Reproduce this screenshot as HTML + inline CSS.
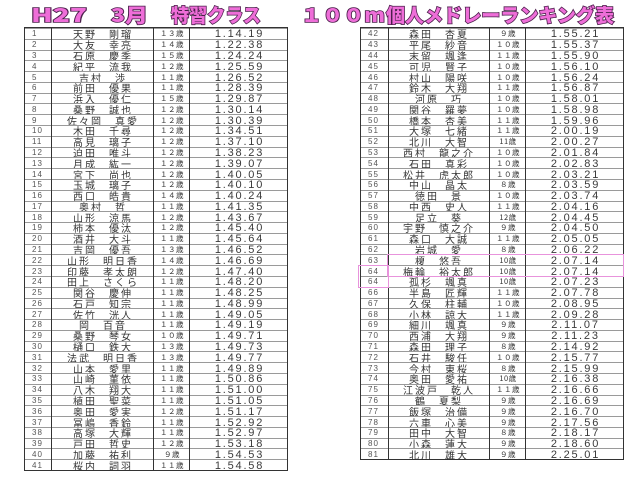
<!DOCTYPE html>
<html><head><meta charset="utf-8">
<style>
body{margin:0;width:640px;height:480px;background:#fff;position:relative;overflow:hidden;font-family:"Liberation Sans","Noto Sans CJK JP",sans-serif}
.tb{position:absolute;top:27px;width:264px;box-sizing:border-box;border:1px solid #333;display:flex;flex-direction:column}
.r{flex:1;position:relative;border-top:1px solid #9a9a9a}
.r:first-child{border-top:none}
.r span{position:absolute;top:0;bottom:0;display:flex;align-items:center;justify-content:center;white-space:nowrap;color:#333;box-sizing:border-box}
.r .a{left:0;width:27px;justify-content:flex-start;padding-left:7px;font-size:8px;letter-spacing:1px;color:#555}
.r .n{left:27px;width:102px;font-size:10px;letter-spacing:2px;font-family:"Noto Sans CJK JP",sans-serif}
.r .g{left:129px;width:36px;font-size:7.5px;letter-spacing:.5px;font-family:"Noto Sans CJK JP",sans-serif}
.r .t{left:165px;width:99px;font-size:11px;letter-spacing:1.8px;color:#3a3a3a;padding-top:1px}
.v{position:absolute;top:0;bottom:0;width:1px;background:#333;z-index:2}
.pk{position:absolute;border:1px solid #e893dc;z-index:3}
</style></head><body>
<svg width="640" height="27" style="position:absolute;left:0;top:0" xmlns="http://www.w3.org/2000/svg">
<g font-family="Noto Sans CJK JP, sans-serif" font-weight="900" font-size="19" fill="#ee6ed8" stroke="#4b1f4b" stroke-width="1.6" paint-order="stroke">
<text x="31" y="22" textLength="56" lengthAdjust="spacingAndGlyphs">H27</text>
<text x="111" y="22" textLength="37" lengthAdjust="spacingAndGlyphs">3月</text>
<text x="171" y="22" textLength="90" lengthAdjust="spacingAndGlyphs">特習クラス</text>
<text x="301" y="22" textLength="84" lengthAdjust="spacingAndGlyphs">１００m</text>
<text x="386" y="22" textLength="228" lengthAdjust="spacingAndGlyphs">個人メドレーランキング表</text>
</g></svg>

<div class="tb" style="left:24px;height:444px">
<div class="v" style="left:26px"></div><div class="v" style="left:128px"></div><div class="v" style="left:164px"></div>
<div class="r"><span class="a">1</span><span class="n">天野　剛瑠</span><span class="g">１３歳</span><span class="t">1.14.19</span></div>
<div class="r"><span class="a">2</span><span class="n">大友　幸亮</span><span class="g">１４歳</span><span class="t">1.22.38</span></div>
<div class="r"><span class="a">3</span><span class="n">石原　慶季</span><span class="g">１５歳</span><span class="t">1.24.24</span></div>
<div class="r"><span class="a">4</span><span class="n">紀平　流我</span><span class="g">１２歳</span><span class="t">1.25.59</span></div>
<div class="r"><span class="a">5</span><span class="n">吉村　渉</span><span class="g">１１歳</span><span class="t">1.26.52</span></div>
<div class="r"><span class="a">6</span><span class="n">前田　優果</span><span class="g">１１歳</span><span class="t">1.28.39</span></div>
<div class="r"><span class="a">7</span><span class="n">浜入　優仁</span><span class="g">１５歳</span><span class="t">1.29.87</span></div>
<div class="r"><span class="a">8</span><span class="n">桑野　誠也</span><span class="g">１２歳</span><span class="t">1.30.14</span></div>
<div class="r"><span class="a">9</span><span class="n">佐々岡　真愛</span><span class="g">１２歳</span><span class="t">1.30.39</span></div>
<div class="r"><span class="a">10</span><span class="n">木田　千尋</span><span class="g">１２歳</span><span class="t">1.34.51</span></div>
<div class="r"><span class="a">11</span><span class="n">高見　璃子</span><span class="g">１２歳</span><span class="t">1.37.10</span></div>
<div class="r"><span class="a">12</span><span class="n">迫田　唯斗</span><span class="g">１２歳</span><span class="t">1.38.23</span></div>
<div class="r"><span class="a">13</span><span class="n">月成　紘一</span><span class="g">１２歳</span><span class="t">1.39.07</span></div>
<div class="r"><span class="a">14</span><span class="n">宮下　尚也</span><span class="g">１２歳</span><span class="t">1.40.05</span></div>
<div class="r"><span class="a">15</span><span class="n">玉城　璃子</span><span class="g">１２歳</span><span class="t">1.40.10</span></div>
<div class="r"><span class="a">16</span><span class="n">西口　皓貴</span><span class="g">１４歳</span><span class="t">1.40.24</span></div>
<div class="r"><span class="a">17</span><span class="n">奥村　哲</span><span class="g">１１歳</span><span class="t">1.41.35</span></div>
<div class="r"><span class="a">18</span><span class="n">山形　涼馬</span><span class="g">１２歳</span><span class="t">1.43.67</span></div>
<div class="r"><span class="a">19</span><span class="n">柿本　優汰</span><span class="g">１２歳</span><span class="t">1.45.40</span></div>
<div class="r"><span class="a">20</span><span class="n">酒井　大斗</span><span class="g">１１歳</span><span class="t">1.45.64</span></div>
<div class="r"><span class="a">21</span><span class="n">吉岡　優吾</span><span class="g">１３歳</span><span class="t">1.46.52</span></div>
<div class="r"><span class="a">22</span><span class="n">山形　明日香</span><span class="g">１４歳</span><span class="t">1.46.69</span></div>
<div class="r"><span class="a">23</span><span class="n">印藤　孝太朗</span><span class="g">１２歳</span><span class="t">1.47.40</span></div>
<div class="r"><span class="a">24</span><span class="n">田上　さくら</span><span class="g">１１歳</span><span class="t">1.48.20</span></div>
<div class="r"><span class="a">25</span><span class="n">関谷　慶伸</span><span class="g">１１歳</span><span class="t">1.48.25</span></div>
<div class="r"><span class="a">26</span><span class="n">石戸　知宗</span><span class="g">１１歳</span><span class="t">1.48.99</span></div>
<div class="r"><span class="a">27</span><span class="n">佐竹　洸人</span><span class="g">１１歳</span><span class="t">1.49.05</span></div>
<div class="r"><span class="a">28</span><span class="n">岡　百音</span><span class="g">１１歳</span><span class="t">1.49.19</span></div>
<div class="r"><span class="a">29</span><span class="n">桑野　琴女</span><span class="g">１０歳</span><span class="t">1.49.71</span></div>
<div class="r"><span class="a">30</span><span class="n">樋口　鉄大</span><span class="g">１３歳</span><span class="t">1.49.73</span></div>
<div class="r"><span class="a">31</span><span class="n">法武　明日香</span><span class="g">１３歳</span><span class="t">1.49.77</span></div>
<div class="r"><span class="a">32</span><span class="n">山本　愛里</span><span class="g">１１歳</span><span class="t">1.49.89</span></div>
<div class="r"><span class="a">33</span><span class="n">山崎　菫依</span><span class="g">１１歳</span><span class="t">1.50.86</span></div>
<div class="r"><span class="a">34</span><span class="n">八木　翔大</span><span class="g">１１歳</span><span class="t">1.51.00</span></div>
<div class="r"><span class="a">35</span><span class="n">植田　聖菜</span><span class="g">１１歳</span><span class="t">1.51.05</span></div>
<div class="r"><span class="a">36</span><span class="n">奥田　愛実</span><span class="g">１２歳</span><span class="t">1.51.17</span></div>
<div class="r"><span class="a">37</span><span class="n">冨嶋　香鈴</span><span class="g">１１歳</span><span class="t">1.52.92</span></div>
<div class="r"><span class="a">38</span><span class="n">高塚　大輝</span><span class="g">１１歳</span><span class="t">1.52.97</span></div>
<div class="r"><span class="a">39</span><span class="n">戸田　哲史</span><span class="g">１２歳</span><span class="t">1.53.18</span></div>
<div class="r"><span class="a">40</span><span class="n">加藤　祐利</span><span class="g">９歳</span><span class="t">1.54.53</span></div>
<div class="r"><span class="a">41</span><span class="n">桜内　詞羽</span><span class="g">１１歳</span><span class="t">1.54.58</span></div>
</div>

<div class="tb" style="left:360px;height:433px">
<div class="v" style="left:27px"></div><div class="v" style="left:128px"></div><div class="v" style="left:164px"></div>
<div class="r"><span class="a">42</span><span class="n">森田　杏夏</span><span class="g">９歳</span><span class="t">1.55.21</span></div>
<div class="r"><span class="a">43</span><span class="n">平尾　紗音</span><span class="g">１０歳</span><span class="t">1.55.37</span></div>
<div class="r"><span class="a">44</span><span class="n">末留　颯逢</span><span class="g">１１歳</span><span class="t">1.55.90</span></div>
<div class="r"><span class="a">45</span><span class="n">可児　賢子</span><span class="g">１０歳</span><span class="t">1.56.10</span></div>
<div class="r"><span class="a">46</span><span class="n">村山　陽咲</span><span class="g">１０歳</span><span class="t">1.56.24</span></div>
<div class="r"><span class="a">47</span><span class="n">鈴木　大翔</span><span class="g">１１歳</span><span class="t">1.56.87</span></div>
<div class="r"><span class="a">48</span><span class="n">河原　巧</span><span class="g">１０歳</span><span class="t">1.58.01</span></div>
<div class="r"><span class="a">49</span><span class="n">関谷　羅夢</span><span class="g">１０歳</span><span class="t">1.58.98</span></div>
<div class="r"><span class="a">50</span><span class="n">橋本　杏美</span><span class="g">１１歳</span><span class="t">1.59.96</span></div>
<div class="r"><span class="a">51</span><span class="n">大塚　七緒</span><span class="g">１１歳</span><span class="t">2.00.19</span></div>
<div class="r"><span class="a">52</span><span class="n">北川　大智</span><span class="g">11歳</span><span class="t">2.00.27</span></div>
<div class="r"><span class="a">53</span><span class="n">西村　龍之介</span><span class="g">１０歳</span><span class="t">2.01.84</span></div>
<div class="r"><span class="a">54</span><span class="n">石田　真彩</span><span class="g">１０歳</span><span class="t">2.02.83</span></div>
<div class="r"><span class="a">55</span><span class="n">松井　虎太郎</span><span class="g">１０歳</span><span class="t">2.03.21</span></div>
<div class="r"><span class="a">56</span><span class="n">中山　晶太</span><span class="g">８歳</span><span class="t">2.03.59</span></div>
<div class="r"><span class="a">57</span><span class="n">徳田　景</span><span class="g">１０歳</span><span class="t">2.03.74</span></div>
<div class="r"><span class="a">58</span><span class="n">中西　史人</span><span class="g">１１歳</span><span class="t">2.04.16</span></div>
<div class="r"><span class="a">59</span><span class="n">足立　葵</span><span class="g">12歳</span><span class="t">2.04.45</span></div>
<div class="r"><span class="a">60</span><span class="n">宇野　慎之介</span><span class="g">９歳</span><span class="t">2.04.50</span></div>
<div class="r"><span class="a">61</span><span class="n">森口　大誠</span><span class="g">１１歳</span><span class="t">2.05.05</span></div>
<div class="r"><span class="a">62</span><span class="n">岩城　愛</span><span class="g">８歳</span><span class="t">2.06.22</span></div>
<div class="r"><span class="a">63</span><span class="n">榎　悠吾</span><span class="g">10歳</span><span class="t">2.07.14</span></div>
<div class="r"><span class="a">64</span><span class="n">梅輪　裕太郎</span><span class="g">10歳</span><span class="t">2.07.14</span></div>
<div class="r"><span class="a">64</span><span class="n">孤杉　颯真</span><span class="g">10歳</span><span class="t">2.07.23</span></div>
<div class="r"><span class="a">66</span><span class="n">半島　匠輝</span><span class="g">１１歳</span><span class="t">2.07.78</span></div>
<div class="r"><span class="a">67</span><span class="n">久保　柱輔</span><span class="g">１０歳</span><span class="t">2.08.95</span></div>
<div class="r"><span class="a">68</span><span class="n">小林　諒大</span><span class="g">１１歳</span><span class="t">2.09.28</span></div>
<div class="r"><span class="a">69</span><span class="n">細川　颯真</span><span class="g">９歳</span><span class="t">2.11.07</span></div>
<div class="r"><span class="a">70</span><span class="n">西浦　大翔</span><span class="g">９歳</span><span class="t">2.11.23</span></div>
<div class="r"><span class="a">71</span><span class="n">森田　理子</span><span class="g">８歳</span><span class="t">2.14.92</span></div>
<div class="r"><span class="a">72</span><span class="n">石井　駿任</span><span class="g">１０歳</span><span class="t">2.15.77</span></div>
<div class="r"><span class="a">73</span><span class="n">今村　東桜</span><span class="g">８歳</span><span class="t">2.15.99</span></div>
<div class="r"><span class="a">74</span><span class="n">奥田　愛祐</span><span class="g">10歳</span><span class="t">2.16.38</span></div>
<div class="r"><span class="a">75</span><span class="n">江波戸　乾人</span><span class="g">１１歳</span><span class="t">2.16.66</span></div>
<div class="r"><span class="a">76</span><span class="n">鶴　夏梨</span><span class="g">９歳</span><span class="t">2.16.69</span></div>
<div class="r"><span class="a">77</span><span class="n">飯塚　治備</span><span class="g">９歳</span><span class="t">2.16.70</span></div>
<div class="r"><span class="a">78</span><span class="n">六車　心美</span><span class="g">９歳</span><span class="t">2.17.56</span></div>
<div class="r"><span class="a">79</span><span class="n">田中　大智</span><span class="g">８歳</span><span class="t">2.18.17</span></div>
<div class="r"><span class="a">80</span><span class="n">小森　蓮大</span><span class="g">９歳</span><span class="t">2.18.60</span></div>
<div class="r"><span class="a">81</span><span class="n">北川　雄大</span><span class="g">９歳</span><span class="t">2.25.01</span></div>
</div>

<div class="pk" style="left:387px;top:254px;width:235px;height:21px"></div>
<div class="pk" style="left:358px;top:265px;width:29px;height:21px"></div>
</body></html>
